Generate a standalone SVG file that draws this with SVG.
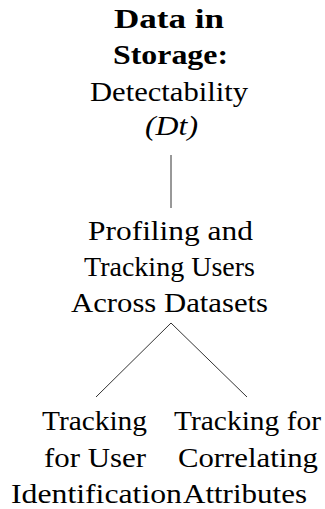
<svg xmlns="http://www.w3.org/2000/svg" width="325" height="509" viewBox="0 0 325 509">
<style>
text{font-family:'Liberation Serif','DejaVu Serif',serif;font-size:27px;fill:#000;text-anchor:middle}
.b{font-weight:bold}
.i{font-style:italic}
.c{stroke:#333;stroke-width:1;fill:none}
</style>
<rect width="325" height="509" fill="#fff"/>
<g id="connectors">
<line class="c" x1="171" y1="155" x2="171" y2="208"/>
<line class="c" x1="171" y1="323" x2="96" y2="397"/>
<line class="c" x1="171" y1="323" x2="247" y2="397"/>
</g>
<g id="root">
<text class="b" x="169" y="28" textLength="110" lengthAdjust="spacingAndGlyphs">Data in</text>
<text class="b" x="170.5" y="64" textLength="115" lengthAdjust="spacingAndGlyphs">Storage:</text>
<text x="169" y="101" textLength="158" lengthAdjust="spacingAndGlyphs">Detectability</text>
<text class="i" x="171.5" y="135" textLength="53" lengthAdjust="spacingAndGlyphs">(Dt)</text>
</g>
<g id="profiling">
<text x="170.5" y="240" textLength="165" lengthAdjust="spacingAndGlyphs">Profiling and</text>
<text x="169.5" y="276" textLength="171" lengthAdjust="spacingAndGlyphs">Tracking Users</text>
<text x="169.5" y="312" textLength="197" lengthAdjust="spacingAndGlyphs">Across Datasets</text>
</g>
<g id="identification">
<text x="94.5" y="430" textLength="105" lengthAdjust="spacingAndGlyphs">Tracking</text>
<text x="95" y="467" textLength="102" lengthAdjust="spacingAndGlyphs">for User</text>
<text x="96.5" y="503" textLength="171" lengthAdjust="spacingAndGlyphs">Identification</text>
</g>
<g id="correlating">
<text x="247.5" y="430" textLength="147" lengthAdjust="spacingAndGlyphs">Tracking for</text>
<text x="248" y="467" textLength="140" lengthAdjust="spacingAndGlyphs">Correlating</text>
<text x="245" y="503" textLength="124" lengthAdjust="spacingAndGlyphs">Attributes</text>
</g>
</svg>
